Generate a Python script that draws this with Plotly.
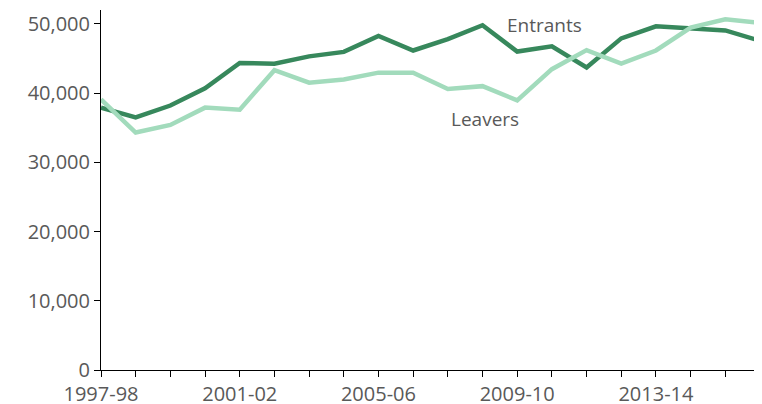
import plotly.graph_objects as go

years = [
    "1997-98", "1998-99", "1999-00", "2000-01", "2001-02", "2002-03", "2003-04",
    "2004-05", "2005-06", "2006-07", "2007-08", "2008-09", "2009-10", "2010-11",
    "2011-12", "2012-13", "2013-14", "2014-15", "2015-16", "2016-17",
]
entrants = [
    37900, 36500, 38200, 40700, 44350, 44250, 45300, 45950, 48250, 46150,
    47800, 49800, 46000, 46750, 43700, 47900, 49650, 49350, 49050, 47550,
]
leavers = [
    39100, 34300, 35400, 37900, 37600, 43300, 41500, 41950, 42950, 42950,
    40600, 41000, 38950, 43450, 46200, 44250, 46150, 49450, 50650, 50150,
]
tick_labels = [y if i % 4 == 0 else "" for i, y in enumerate(years)]

DARK = "#37885c"
LIGHT = "#a2dbbc"
TEXT = "#595959"

fig = go.Figure()
fig.add_scatter(x=years, y=entrants, mode="lines", name="Entrants",
                line=dict(color=DARK, width=4.5))
fig.add_scatter(x=years, y=leavers, mode="lines", name="Leavers",
                line=dict(color=LIGHT, width=4.5))

fig.add_annotation(x=12.8, y=49860, text="Entrants", showarrow=False,
                   font=dict(size=19, color=TEXT))
fig.add_annotation(x=11.07, y=36270, text="Leavers", showarrow=False,
                   font=dict(size=19, color=TEXT))

# the page body adds an 8px margin, so the figure is sized to fit the window
fig.update_layout(
    width=754, height=396,
    margin=dict(l=93, r=2, t=2, b=34),
    plot_bgcolor="white", paper_bgcolor="white",
    showlegend=False,
    font=dict(family="Open Sans", size=20, color=TEXT),
)
fig.update_xaxes(
    type="category", range=[0, 19], automargin=False,
    tickmode="array", tickvals=years, ticktext=tick_labels,
    ticks="outside", ticklen=6, tickcolor="black",
    showline=True, linecolor="black", linewidth=1,
    showgrid=False, zeroline=False,
)
fig.update_yaxes(
    range=[0, 52000], automargin=False,
    tickvals=[0, 10000, 20000, 30000, 40000, 50000],
    tickformat=",", ticks="outside", ticklen=6, tickcolor="black",
    showline=True, linecolor="black", linewidth=1,
    showgrid=False, zeroline=False,
)

fig.write_html("out.html")
